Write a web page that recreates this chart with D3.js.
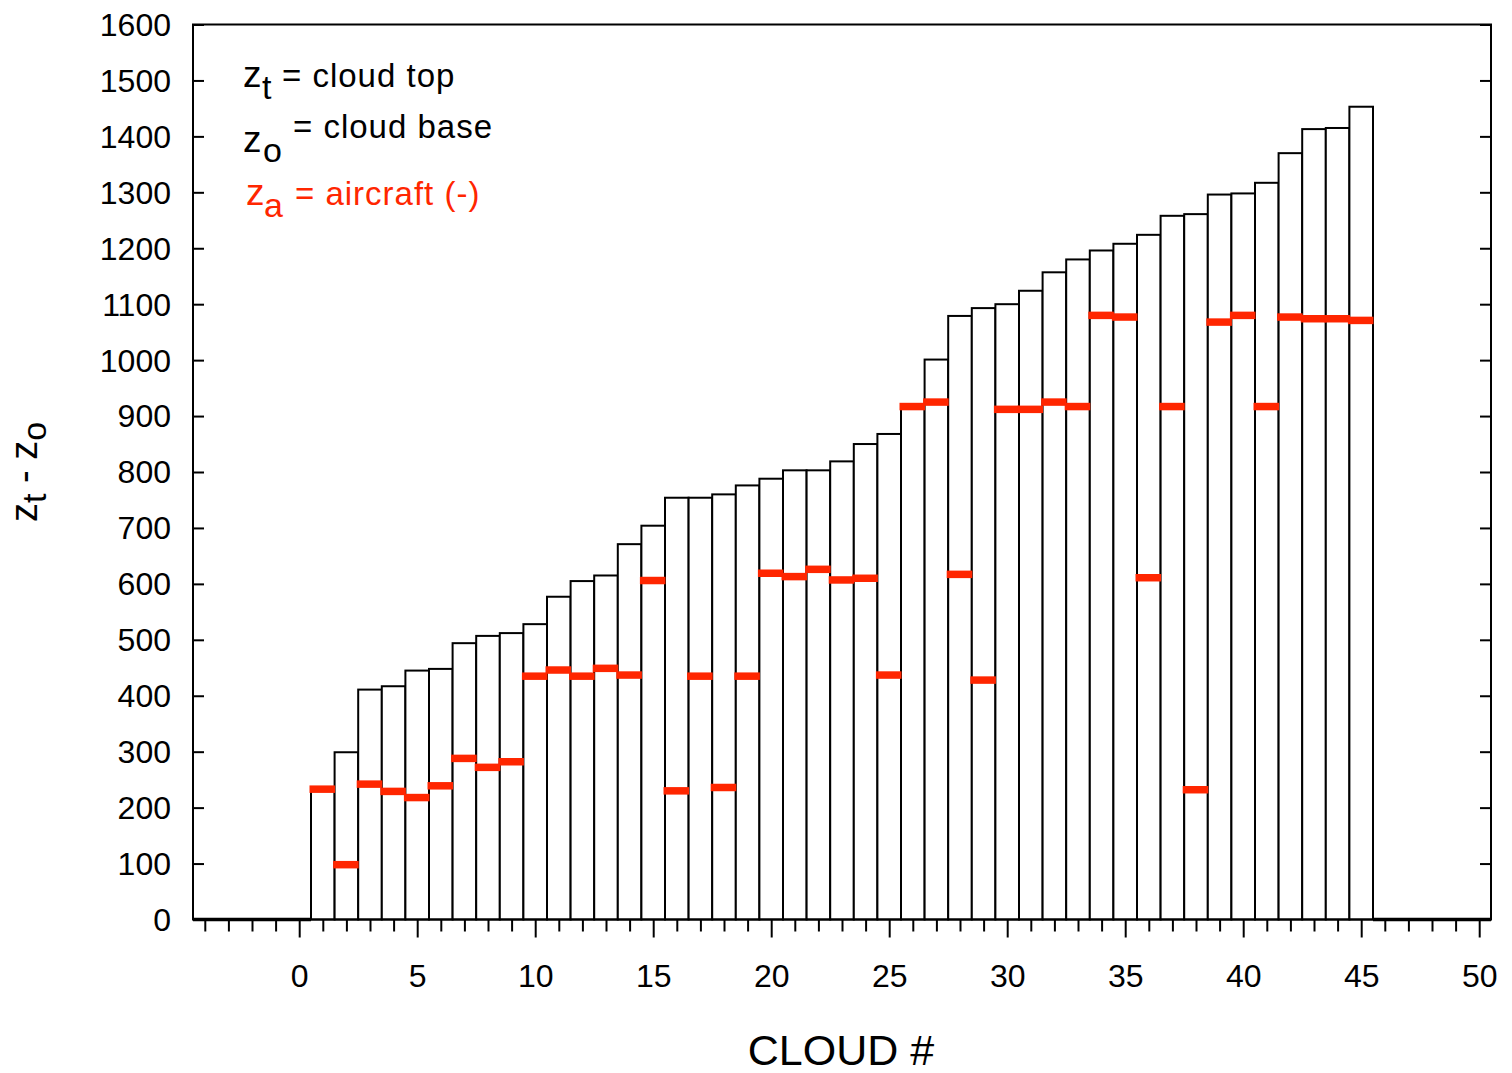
<!DOCTYPE html>
<html>
<head>
<meta charset="utf-8">
<script src="https://cdn.jsdelivr.net/npm/d3@7"></script>
<style>
  body { margin: 0; background: #fff; }
  svg text { font-family: "Liberation Sans", Arial, sans-serif; }
</style>
</head>
<body>
<div id="chart"></div>
<script>
// cloud numbers 1..45
var cloudIds = d3.range(1, 46);

// zt - zo (cloud depth) for each cloud
var cloudDepth = [232, 299, 411, 417, 445, 448, 494, 507, 512, 528,
  577, 605, 615, 671, 704, 754, 754, 760, 776, 788,
  803, 803, 819, 850, 868, 918, 1001, 1079, 1093, 1100,
  1124, 1157, 1180, 1196, 1208, 1224, 1258, 1261, 1296, 1298,
  1317, 1370, 1413, 1415, 1453];

// za - zo aircraft level for each cloud
var aircraftLevel = [233, 98, 242, 229, 218, 239, 288, 272, 282, 435,
  446, 435, 449, 437, 606, 230, 435, 236, 435, 619,
  613, 626, 607, 610, 437, 917, 925, 617, 428, 912,
  912, 925, 917, 1080, 1077, 611, 917, 232, 1068, 1080,
  917, 1077, 1074, 1074, 1071];

var xMajorTicks = d3.range(0, 51, 5);
var xMinorTicks = d3.range(-4, 51).filter(d => d % 5 !== 0);
var yTicks = d3.range(0, 1601, 100);

var svgWidth = 1512;
var svgHeight = 1073;

var svg = d3.select("#chart")
  .append("svg")
  .attr("width", svgWidth)
  .attr("height", svgHeight);

var xScale = d3.scaleLinear().domain([-4.5, 50.5]).range([193, 1491]);
var yScale = d3.scaleLinear().domain([0, 1600]).range([919.5, 24.5]);

var data = cloudIds.map((id, i) => ({ id: id, depth: cloudDepth[i], za: aircraftLevel[i] }));

// bars (step histogram)
svg.append("g")
  .selectAll("rect")
  .data(data)
  .enter()
  .append("rect")
  .attr("x", d => xScale(d.id - 0.5))
  .attr("y", d => yScale(d.depth))
  .attr("width", d => xScale(d.id + 0.5) - xScale(d.id - 0.5))
  .attr("height", d => yScale(0) - yScale(d.depth))
  .attr("fill", "#fff")
  .attr("stroke", "#000")
  .attr("stroke-width", 2);

// zero steps outside the clouds
svg.append("g")
  .selectAll("line")
  .data([[-4.5, d3.min(cloudIds) - 0.5], [d3.max(cloudIds) + 0.5, 50.5]])
  .enter()
  .append("line")
  .attr("x1", d => xScale(d[0]))
  .attr("x2", d => xScale(d[1]))
  .attr("y1", yScale(0))
  .attr("y2", yScale(0))
  .attr("stroke", "#000")
  .attr("stroke-width", 3.5);

// aircraft level dashes
svg.append("g")
  .selectAll("line")
  .data(data)
  .enter()
  .append("line")
  .attr("x1", d => xScale(d.id - 0.5) - 1.5)
  .attr("x2", d => xScale(d.id + 0.5) + 0.5)
  .attr("y1", d => yScale(d.za))
  .attr("y2", d => yScale(d.za))
  .attr("stroke", "#ff2600")
  .attr("stroke-width", 7.5);

// frame
svg.append("rect")
  .attr("x", xScale(-4.5))
  .attr("y", yScale(1600))
  .attr("width", xScale(50.5) - xScale(-4.5))
  .attr("height", yScale(0) - yScale(1600))
  .attr("fill", "none")
  .attr("stroke", "#000")
  .attr("stroke-width", 2);

// axes
var leftAxis = d3.axisLeft(yScale).tickValues(yTicks).tickSize(-11).tickPadding(22).tickFormat(d3.format("d"));
var rightAxis = d3.axisRight(yScale).tickValues(yTicks).tickSize(-11).tickFormat("");
var bottomMajor = d3.axisBottom(xScale).tickValues(xMajorTicks).tickSize(18).tickPadding(27).tickFormat(d3.format("d"));
var bottomMinor = d3.axisBottom(xScale).tickValues(xMinorTicks).tickSize(12).tickFormat("");

var yAxisL = svg.append("g").attr("transform", `translate(${xScale(-4.5)},0)`).call(leftAxis);
var yAxisR = svg.append("g").attr("transform", `translate(${xScale(50.5)},0)`).call(rightAxis);
var xAxisMaj = svg.append("g").attr("transform", `translate(0,${yScale(0)})`).call(bottomMajor);
var xAxisMin = svg.append("g").attr("transform", `translate(0,${yScale(0)})`).call(bottomMinor);

[yAxisL, yAxisR, xAxisMaj, xAxisMin].forEach(function(ax) {
  ax.select(".domain").remove();
  ax.selectAll("line").attr("stroke", "#000").attr("stroke-width", 2);
  ax.selectAll("text")
    .attr("fill", "#000")
    .style("font-size", "32px")
    .style("font-family", '"Liberation Sans", Arial, sans-serif');
});
yAxisL.selectAll("text").attr("dy", "0.34em");

// axis titles
svg.append("text")
  .attr("x", 841)
  .attr("y", 1065)
  .attr("text-anchor", "middle")
  .style("font-size", "43px")
  .text("CLOUD #");

var yTitle = svg.append("text")
  .attr("transform", "translate(37,472) rotate(-90)")
  .attr("text-anchor", "middle")
  .style("font-size", "38px");
yTitle.append("tspan").text("z");
yTitle.append("tspan").attr("dy", 9).style("font-size", "34px").text("t");
yTitle.append("tspan").attr("dy", -9).text(" - z");
yTitle.append("tspan").attr("dy", 9).style("font-size", "34px").text("o");

// legend
var legendRows = [
  { sym: "z", sub: "t", label: "= cloud top", color: "#000", zx: 243, zy: 87, subx: 262, suby: 99, lx: 282, ly: 87 },
  { sym: "z", sub: "o", label: "= cloud base", color: "#000", zx: 243, zy: 152, subx: 263, suby: 162, lx: 293, ly: 138 },
  { sym: "z", sub: "a", label: "= aircraft (-)", color: "#ff2600", zx: 246, zy: 205, subx: 264, suby: 217, lx: 295, ly: 205 }
];

legendRows.forEach(function(r) {
  var g = svg.append("g").attr("fill", r.color);
  g.append("text").attr("x", r.zx).attr("y", r.zy).style("font-size", "37px").text(r.sym);
  g.append("text").attr("x", r.subx).attr("y", r.suby).style("font-size", "34px").text(r.sub);
  g.append("text").attr("x", r.lx).attr("y", r.ly)
    .style("font-size", "33px")
    .style("letter-spacing", "1px")
    .text(r.label);
});
</script>
</body>
</html>
